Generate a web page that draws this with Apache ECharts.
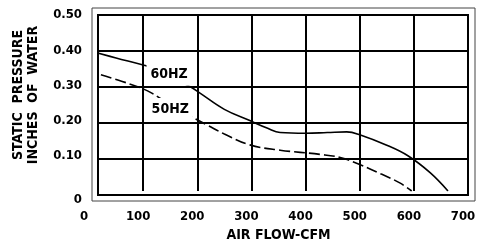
<!DOCTYPE html>
<html><head><meta charset="utf-8">
<script src="https://cdn.jsdelivr.net/npm/echarts@6/dist/echarts.min.js"></script>
<style>html,body{margin:0;padding:0;background:#fff}#c{width:486px;height:247px}</style>
</head><body><div id="c"></div>
<script>
// ---- data ----
const xTicks = [0, 100, 200, 300, 400, 500, 600, 700];
const yTickLabels = ['0', '0.10', '0.20', '0.30', '0.40', '0.50'];
const hz60 = [[16,0.392],[50,0.378],[100,0.358],[113,0.352],[150,0.325],[187,0.296],[205,0.278],[250,0.232],[297,0.200],[330,0.178],[353,0.166],[400,0.164],[440,0.166],[476,0.168],[500,0.160],[550,0.130],[589,0.100],[630,0.052],[663,0]];
const hz50 = [[22,0.330],[60,0.312],[100,0.290],[116,0.278],[150,0.246],[187,0.213],[220,0.186],[250,0.162],[297,0.131],[353,0.116],[427,0.104],[464,0.095],[500,0.075],[540,0.048],[574,0.023],[596,0]];
const seriesNames = ['60HZ', '50HZ'];
const labelCoords = [[148, 0.330], [150, 0.233]];
const xName = 'AIR FLOW-CFM';
const yName = 'STATIC  PRESSURE\nINCHES  OF  WATER';

const numFont = {fontFamily: 'DejaVu Sans Condensed', fontWeight: 'bold', fontSize: 13, color: '#000'};
const txtFont = {fontFamily: 'DejaVu Sans Condensed', fontWeight: 'bold', fontSize: 14, color: '#000'};

function lbl(i) {
  return {
    z: 10,
    symbol: 'rect', symbolSize: 1, itemStyle: {color: 'rgba(0,0,0,0)'},
    label: Object.assign({show: true, position: 'inside', formatter: seriesNames[i],
      backgroundColor: '#fff', padding: [4, 4]}, txtFont),
    data: [{coord: labelCoords[i]}]
  };
}

const chart = echarts.init(document.getElementById('c'), null, {renderer: 'canvas'});
chart.setOption({
  animation: false,
  backgroundColor: '#fff',
  grid: [
    {left: 89, right: 18, top: 15, bottom: 52, show: false},
    {left: 98, right: 18, top: 15, bottom: 52, show: true, borderColor: '#000', borderWidth: 2},
    {left: 92, right: 11, top: 8, bottom: 46, show: true, borderColor: '#444', borderWidth: 1}
  ],
  xAxis: [
    {gridIndex: 0, type: 'value', min: xTicks[0], max: xTicks[xTicks.length - 1], interval: 100,
     axisLine: {show: false}, axisTick: {show: false},
     splitLine: {show: true, showMinLine: false, showMaxLine: false, lineStyle: {color: '#000', width: 2}},
     axisLabel: Object.assign({margin: 19, padding: [0, 10, 0, 0]}, numFont),
     name: xName, nameLocation: 'middle', nameGap: 37, nameTextStyle: txtFont},
    {gridIndex: 1, type: 'value', show: false, min: 0, max: 1},
    {gridIndex: 2, type: 'value', show: false, min: 0, max: 1}
  ],
  yAxis: [
    {gridIndex: 0, type: 'value', min: 0, max: 0.5, interval: 0.1,
     axisLine: {show: false}, axisTick: {show: false}, splitLine: {show: false},
     axisLabel: Object.assign({margin: 7, hideOverlap: false,
       formatter: v => v === 0 ? '{z|' + yTickLabels[0] + '}' : yTickLabels[Math.round(v * 10)],
       rich: {z: Object.assign({padding: [18, 0, 0, 0]}, numFont)}}, numFont),
     name: yName, nameLocation: 'middle', nameRotate: 90, nameGap: 48,
     nameTextStyle: Object.assign({lineHeight: 15, padding: [0, 0, 0, 16]}, txtFont)},
    {gridIndex: 1, type: 'value', min: 0, max: 0.5, interval: 0.1,
     axisLine: {show: false}, axisTick: {show: false}, axisLabel: {show: false},
     splitLine: {show: true, lineStyle: {color: '#000', width: 2}}},
    {gridIndex: 2, type: 'value', show: false, min: 0, max: 1}
  ],
  series: [
    {name: seriesNames[0], type: 'line', xAxisIndex: 0, yAxisIndex: 0, data: hz60,
     smooth: 0.4, showSymbol: false, lineStyle: {color: '#000', width: 1.6},
     markPoint: lbl(0)},
    {name: seriesNames[1], type: 'line', xAxisIndex: 0, yAxisIndex: 0, data: hz50,
     smooth: 0.4, showSymbol: false, lineStyle: {color: '#000', width: 1.6, type: [11, 4]},
     markPoint: lbl(1)}
  ]
});
</script></body></html>
